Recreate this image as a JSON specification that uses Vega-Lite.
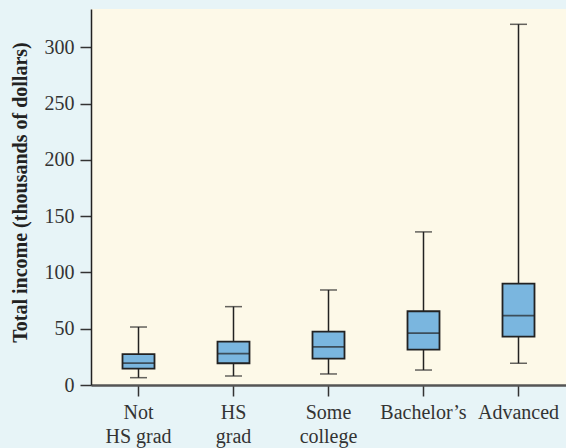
{
  "$schema": "https://vega.github.io/schema/vega-lite/v6.json",
  "autosize": "none",
  "width": 475,
  "height": 376,
  "padding": {"left": 91, "top": 9, "right": 0, "bottom": 63},
  "background": "#e7f4f7",
  "config": {
    "view": {"fill": "#fdf9e8", "stroke": null},
    "font": "Liberation Serif"
  },
  "data": {
    "values": [
      {"edu": "Not|HS grad", "min": 6.5, "q1": 14.5, "median": 19.5, "q3": 27.5, "max": 51.5},
      {"edu": "HS|grad", "min": 8, "q1": 19.3, "median": 27.8, "q3": 38.5, "max": 69.6},
      {"edu": "Some|college", "min": 9.8, "q1": 23.4, "median": 33.8, "q3": 47.4, "max": 84.4},
      {"edu": "Bachelor’s", "min": 13.3, "q1": 31.4, "median": 46, "q3": 65.5, "max": 136},
      {"edu": "Advanced", "min": 19.3, "q1": 43, "median": 61.6, "q3": 90, "max": 320.4}
    ]
  },
  "encoding": {
    "x": {
      "field": "edu", "type": "nominal", "sort": null,
      "scale": {"paddingInner": 0, "paddingOuter": 0},
      "axis": {
        "title": null, "labelAngle": 0, "labelExpr": "split(datum.label, '|')",
        "labelFont": "Liberation Serif", "labelFontSize": 20, "labelColor": "#333333",
        "labelLineHeight": 24, "labelPadding": 6,
        "domainColor": "#555555", "domainWidth": 2.5,
        "tickColor": "#333333", "tickSize": 11, "tickWidth": 1.5
      }
    }
  },
  "layer": [
    {
      "mark": {"type": "rule", "color": "#222222", "strokeWidth": 1.5},
      "encoding": {
        "y": {
          "field": "min", "type": "quantitative",
          "scale": {"domain": [0, 334], "nice": false, "zero": true},
          "axis": {
            "values": [0, 50, 100, 150, 200, 250, 300],
            "title": "Total income (thousands of dollars)",
            "titleFont": "Liberation Serif", "titleFontSize": 20, "titleFontWeight": "bold",
            "titleColor": "#222222", "titlePadding": 14, "titleY": 183,
            "labelFont": "Liberation Serif", "labelFontSize": 20, "labelColor": "#333333",
            "labelPadding": 6,
            "grid": false, "domainColor": "#222222", "domainWidth": 1.5,
            "tickColor": "#333333", "tickSize": 11, "tickWidth": 1.5
          }
        },
        "y2": {"field": "max"}
      }
    },
    {
      "mark": {"type": "bar", "size": 32, "fill": "#7ab6df", "stroke": "#222222", "strokeWidth": 1.8},
      "encoding": {
        "y": {"field": "q1", "type": "quantitative"},
        "y2": {"field": "q3"}
      }
    },
    {
      "mark": {"type": "tick", "size": 32, "color": "#222222", "thickness": 1.8},
      "encoding": {"y": {"field": "median", "type": "quantitative"}}
    },
    {
      "mark": {"type": "tick", "size": 17, "color": "#222222", "thickness": 1.5},
      "encoding": {"y": {"field": "min", "type": "quantitative"}}
    },
    {
      "mark": {"type": "tick", "size": 17, "color": "#222222", "thickness": 1.5},
      "encoding": {"y": {"field": "max", "type": "quantitative"}}
    }
  ]
}
